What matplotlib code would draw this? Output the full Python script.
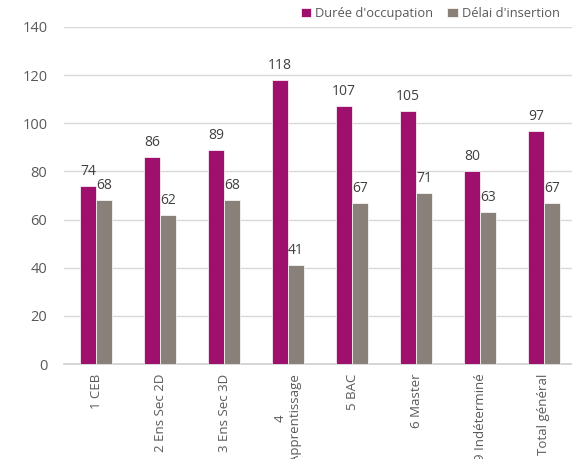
import numpy as np
import matplotlib
matplotlib.use('Agg')
import matplotlib.pyplot as plt

categories = ['1 CEB', '2 Ens Sec 2D', '3 Ens Sec 3D', '4\nApprentissage', '5 BAC',
              '6 Master', '9 Indéterminé', 'Total général']
duree = [74, 86, 89, 118, 107, 105, 80, 97]
delai = [68, 62, 68, 41, 67, 71, 63, 67]

plt.rcParams['font.family'] = ['Open Sans', 'DejaVu Sans']

fig = plt.figure(figsize=(5.72, 4.59), dpi=100)
ax = fig.add_axes([64 / 572, 1 - 364 / 459, 512 / 572, 337 / 459])

x = np.arange(len(categories))
w = 0.25
col1 = '#9E0F6E'
col2 = '#898179'
b1 = ax.bar(x - w / 2, duree, w, color=col1, edgecolor='white', linewidth=0.5, label="Durée d'occupation", zorder=3)
b2 = ax.bar(x + w / 2, delai, w, color=col2, edgecolor='white', linewidth=0.5, label="Délai d'insertion", zorder=3)

for bars, vals in ((b1, duree), (b2, delai)):
    for r, v in zip(bars, vals):
        ax.annotate(str(v), (r.get_x() + r.get_width() / 2, v), xytext=(0, 5), textcoords='offset points',
                    ha='center', va='bottom', fontsize=10, color='#404040')

ax.set_xlim(-0.5, len(categories) - 0.5)
ax.set_ylim(0, 140)
ax.set_yticks(range(0, 141, 20))
ax.yaxis.grid(True, color='#D9D9D9', linewidth=1, zorder=0)
for s in ['top', 'right', 'left']:
    ax.spines[s].set_visible(False)
ax.spines['bottom'].set_color('#D0D0D0')
ax.spines['bottom'].set_linewidth(1.2)
ax.tick_params(length=0, colors='#595959')
ax.tick_params(axis='y', pad=12, labelsize=10.5)
ax.tick_params(axis='x', pad=7, labelsize=9.5)
ax.set_xticks(x)
ax.set_xticklabels(categories, rotation=90, va='top', ha='center', multialignment='center')

ax.legend(loc='upper left', bbox_to_anchor=(301 / 572, 1 - 7 / 459), bbox_transform=fig.transFigure,
          ncol=2, frameon=False, fontsize=9.3, handlelength=0.8, handleheight=0.8, handletextpad=0.3,
          columnspacing=1.1, labelcolor='#595959', borderaxespad=0, borderpad=0)

fig.savefig('out.png', dpi=100)
